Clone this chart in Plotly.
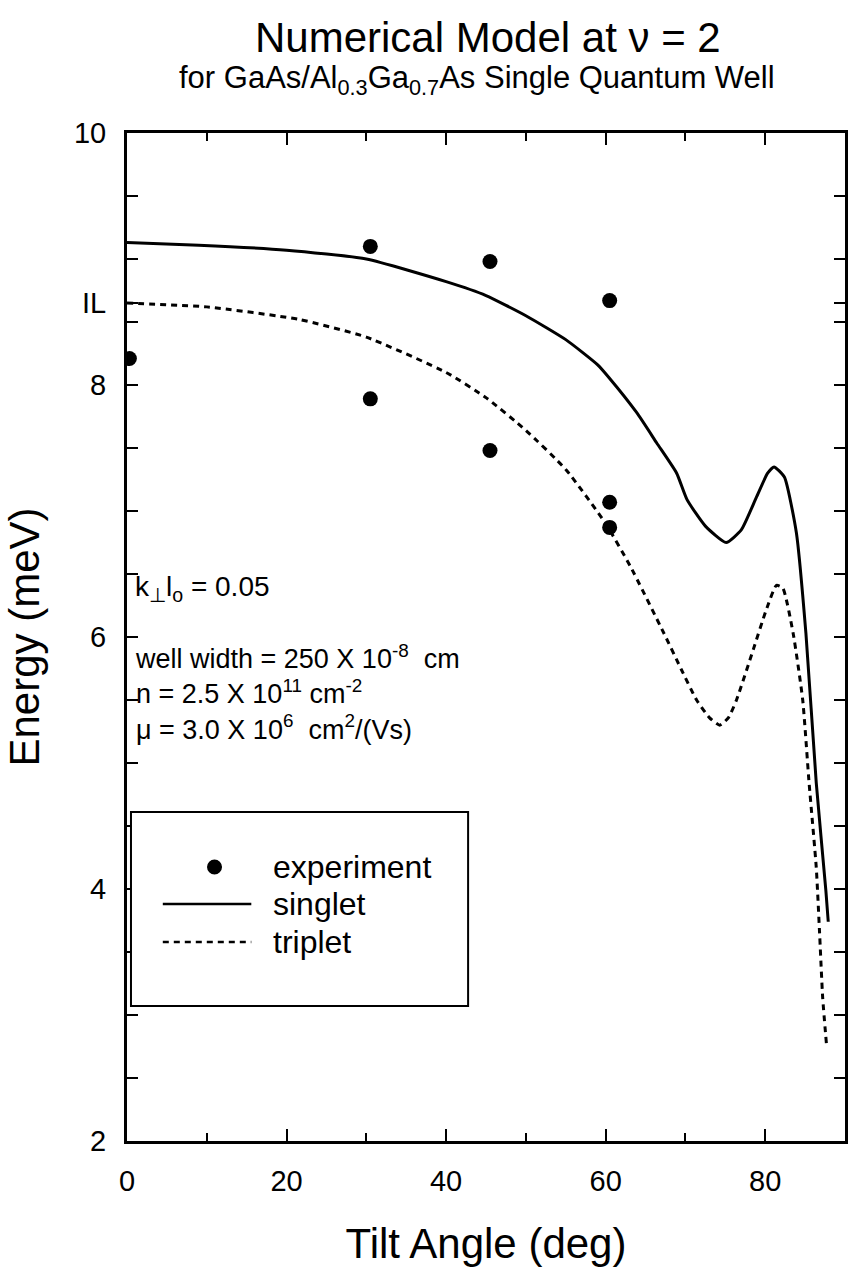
import plotly.graph_objects as go

# Experimental points (tilt angle in degrees, energy in meV)
exp_angle = [0.3, 30.5, 30.5, 45.5, 45.5, 60.5, 60.5, 60.5]
exp_energy = [8.21, 9.10, 7.89, 8.98, 7.48, 8.67, 7.07, 6.87]

# Numerical model: singlet branch
singlet_angle = [0, 9, 20, 30, 40, 45, 50, 55, 59, 60.4, 63.9, 66.4, 68.9, 70.2,
                 72.5, 75.1, 77, 78.9, 80.3, 81.1, 82.4, 83.9, 85.1, 86.4, 87.6, 87.9]
singlet_energy = [9.13, 9.11, 9.07, 9.00, 8.82, 8.71, 8.55, 8.36, 8.16, 8.06, 7.78,
                  7.54, 7.30, 7.09, 6.88, 6.75, 6.85, 7.11, 7.30, 7.35, 7.27, 6.83,
                  6.03, 4.84, 3.99, 3.74]

# Numerical model: triplet branch
triplet_angle = [0, 10, 21.6, 30, 40, 45, 50, 55, 60, 63.1, 67.3, 69.5, 71.4, 73.0,
                 74.3, 75.4, 76.4, 78.5, 80.1, 81.4, 82.2, 83.5, 84.7, 85.5, 86.4,
                 86.8, 87.2, 87.7]
triplet_energy = [8.65, 8.62, 8.52, 8.38, 8.10, 7.90, 7.64, 7.33, 6.90, 6.56, 6.03,
                  5.74, 5.50, 5.36, 5.30, 5.36, 5.50, 5.90, 6.21, 6.41, 6.39, 6.03,
                  5.50, 4.84, 4.17, 3.67, 3.14, 2.75]

# Axis ticks
y_tick_vals = [2, 4, 6, 8, 8.65, 10]
y_tick_text = ["2", "4", "6", "8", "IL", "10"]
x_tick_vals = [0, 20, 40, 60, 80]

FONT = "Liberation Sans"
TICK_FONT = "Liberation Sans Narrow, Liberation Sans"

fig = go.Figure()
fig.add_trace(go.Scatter(x=singlet_angle, y=singlet_energy, mode="lines",
                         name="singlet", line=dict(color="black", width=3),
                         line_shape="spline", line_smoothing=0.5,
                         showlegend=False))
fig.add_trace(go.Scatter(x=triplet_angle, y=triplet_energy, mode="lines",
                         name="triplet", line_shape="spline", line_smoothing=0.5,
                         line=dict(color="black", width=3, dash="6px,5px"),
                         showlegend=False))
fig.add_trace(go.Scatter(x=exp_angle, y=exp_energy, mode="markers",
                         name="experiment", cliponaxis=True,
                         marker=dict(color="black", size=15),
                         showlegend=False))


def px_x(p):
    return (p - 127) / 722


def px_y(p):
    return (1141 - p) / 1008


# Parameter annotations
fig.add_annotation(x=px_x(133), y=px_y(588), xref="paper", yref="paper",
                   text="k<sub>⊥</sub>l<sub>o</sub> = 0.05",
                   showarrow=False, xanchor="left", yanchor="middle",
                   font=dict(family=FONT, size=28, color="black"))
fig.add_annotation(x=px_x(133), y=px_y(692), xref="paper", yref="paper",
                   text=("well width = 250 X 10<sup>-8</sup>  cm<br>"
                         "n = 2.5 X 10<sup>11</sup> cm<sup>-2</sup><br>"
                         "μ = 3.0 X 10<sup>6</sup>  cm<sup>2</sup>/(Vs)"),
                   showarrow=False, xanchor="left", yanchor="middle",
                   align="left",
                   font=dict(family=FONT, size=27, color="black"))

# Legend box
fig.add_shape(type="rect", xref="paper", yref="paper",
              x0=px_x(131), x1=px_x(470), y0=px_y(1006), y1=px_y(812),
              line=dict(color="black", width=2), fillcolor="white", layer="above")
fig.add_shape(type="circle", xref="paper", yref="paper",
              xsizemode="pixel", ysizemode="pixel",
              xanchor=px_x(215), yanchor=px_y(867),
              x0=-7.5, x1=7.5, y0=-7.5, y1=7.5,
              fillcolor="black", line=dict(color="black", width=0))
fig.add_shape(type="line", xref="paper", yref="paper",
              x0=px_x(163), x1=px_x(252), y0=px_y(904), y1=px_y(904),
              line=dict(color="black", width=2.5))
fig.add_shape(type="line", xref="paper", yref="paper",
              x0=px_x(163), x1=px_x(252), y0=px_y(942), y1=px_y(942),
              line=dict(color="black", width=2.5, dash="6px,5px"))
for py, txt in [(867, "experiment"), (904, "singlet"), (942, "triplet")]:
    fig.add_annotation(x=px_x(272), y=px_y(py), xref="paper", yref="paper",
                       text=txt, showarrow=False, xanchor="left",
                       yanchor="middle",
                       font=dict(family=FONT, size=32, color="black"))

# Titles
fig.add_annotation(x=px_x(490), y=px_y(38), xref="paper",
                   yref="paper", text="Numerical Model at ν = 2",
                   showarrow=False, xanchor="center", yanchor="middle",
                   font=dict(family=FONT, size=42, color="black"))
fig.add_annotation(x=px_x(479), y=px_y(80), xref="paper",
                   yref="paper",
                   text="for GaAs/Al<sub>0.3</sub>Ga<sub>0.7</sub>As Single Quantum Well",
                   showarrow=False, xanchor="center", yanchor="middle",
                   font=dict(family=FONT, size=31, color="black"))

fig.update_xaxes(range=[0, 90], tickvals=x_tick_vals, ticks="inside",
                 ticklen=12, tickwidth=2, tickcolor="black",
                 ticklabelstandoff=12,
                 minor=dict(dtick=10, tick0=0, ticks="inside", ticklen=8,
                            tickwidth=2, tickcolor="black"),
                 showline=True, linewidth=3, linecolor="black", mirror="ticks",
                 showgrid=False, zeroline=False,
                 tickfont=dict(family=TICK_FONT, size=29, color="black"),
                 title=dict(text="Tilt Angle (deg)", standoff=33,
                            font=dict(family=FONT, size=42, color="black")))
fig.update_yaxes(range=[2, 10], tickvals=y_tick_vals, ticktext=y_tick_text,
                 ticks="inside", ticklen=11, tickwidth=2, tickcolor="black",
                 ticklabelstandoff=12,
                 minor=dict(dtick=0.5, tick0=0, ticks="inside", ticklen=11,
                            tickwidth=2, tickcolor="black"),
                 showline=True, linewidth=3, linecolor="black", mirror="ticks",
                 showgrid=False, zeroline=False,
                 tickfont=dict(family=TICK_FONT, size=29, color="black"),
                 title=dict(text="Energy (meV)", standoff=22,
                            font=dict(family=FONT, size=42, color="black")))

fig.update_layout(width=849, height=1283,
                  margin=dict(l=127, r=1, t=133, b=142),
                  plot_bgcolor="white", paper_bgcolor="white",
                  font=dict(family=FONT, color="black"))

fig.write_html("out.html")
